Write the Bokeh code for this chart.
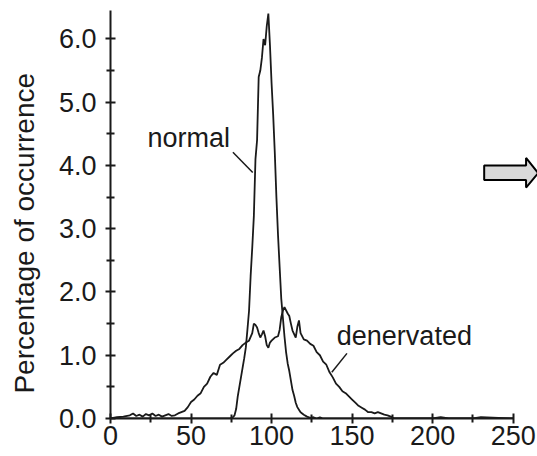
import math
from bokeh.plotting import figure
from bokeh.layouts import row
from bokeh.models import Range1d, FixedTicker
from bokeh.embed import file_html
from bokeh.resources import INLINE
from bokeh.core.properties import value

# --- data ---
normal_x = [0, 10, 20, 30, 40, 50, 60, 70, 74, 76, 77, 78, 79, 80, 81, 82, 83, 84, 85, 86, 87, 88, 89,
            90, 91, 92, 93, 94, 95, 96, 97, 98, 99, 100, 101, 102, 103, 104, 105, 106, 107, 108,
            109, 110, 111, 112, 113, 114, 115, 116, 117, 118, 120, 122, 124, 126, 128, 130, 132,
            140, 160, 180, 200, 220, 240, 250]
normal_y = [0.0, 0.0, 0.0, 0.0, 0.0, 0.0, 0.0, 0.0, 0.0, 0.02, 0.05, 0.15, 0.35, 0.5, 0.65, 0.8, 0.95,
            1.12, 1.4, 1.7, 2.25, 2.7, 3.2, 4.1, 4.4, 5.4, 5.5, 5.7, 6.0, 5.9, 6.2, 6.4, 5.9, 5.3,
            4.8, 4.2, 3.5, 2.9, 2.4, 1.9, 1.6, 1.3, 1.05, 0.87, 0.75, 0.6, 0.45, 0.36, 0.25, 0.18,
            0.14, 0.1, 0.06, 0.03, 0.01, 0.02, 0.0, 0.02, 0.0, 0.0, 0.0, 0.0, 0.0, 0.0, 0.0, 0.0]

den_x = [0, 4, 8, 12, 14, 16, 18, 20, 22, 24, 26, 28, 30, 32, 34, 36, 38, 40, 42, 44, 46, 48, 50,
         52, 54, 56, 58, 60, 62, 64, 66, 68, 70, 72, 74, 76, 78, 80, 82, 84, 86, 88, 89, 90, 91,
         92, 93, 94, 95, 96, 97, 98, 99, 100, 102, 104, 105, 106, 107, 108, 110, 111, 112, 113,
         115, 116, 117, 118, 120, 122, 124, 126, 128, 130, 132, 134, 136, 138, 140, 142, 144,
         146, 148, 150, 152, 154, 156, 158, 160, 162, 164, 166, 168, 170, 172, 174, 176, 180,
         200, 205, 210, 225, 230, 250]
den_y = [0.0, 0.02, 0.03, 0.05, 0.08, 0.04, 0.06, 0.03, 0.07, 0.05, 0.08, 0.04, 0.06, 0.03, 0.05,
         0.07, 0.04, 0.05, 0.08, 0.1, 0.12, 0.18, 0.26, 0.3, 0.36, 0.4, 0.5, 0.55, 0.66, 0.72,
         0.69, 0.85, 0.88, 0.93, 0.98, 1.03, 1.07, 1.1, 1.16, 1.2, 1.23, 1.35, 1.5, 1.48, 1.44,
         1.35, 1.28, 1.33, 1.39, 1.3, 1.16, 1.12, 1.2, 1.23, 1.28, 1.3, 1.4, 1.6, 1.7, 1.76, 1.66,
         1.62, 1.5, 1.39, 1.28, 1.45, 1.55, 1.35, 1.25, 1.23, 1.18, 1.15, 1.05, 1.0, 0.9, 0.85,
         0.73, 0.65, 0.55, 0.5, 0.43, 0.4, 0.35, 0.3, 0.25, 0.2, 0.17, 0.14, 0.1, 0.1, 0.08, 0.1,
         0.08, 0.06, 0.05, 0.03, 0.0, 0.0, 0.0, 0.02, 0.0, 0.0, 0.02, 0.0]

x_ticks = [0, 50, 100, 150, 200, 250]
x_minor = [25, 75, 125, 175, 225]
y_ticks = [0.0, 1.0, 2.0, 3.0, 4.0, 5.0, 6.0]
y_minor = [0.5, 1.5, 2.5, 3.5, 4.5, 5.5]

y_title = ["Percentage of occurrence"]

label_text = ["normal", "denervated"]
label_x = [23, 140.5]
label_y = [4.43, 1.31]
leader_x0 = [76, 146.8]
leader_y0 = [4.21, 1.03]
leader_x1 = [88.3, 137.4]
leader_y1 = [3.89, 0.73]

arrow_x = [232, 258, 258, 265.5, 258, 258, 232]
arrow_y = [4.0, 4.0, 4.12, 3.88, 3.65, 3.77, 3.77]

FONT = "Liberation Sans"
INK = "#1a1a1a"
W, H = 537, 456
W_LBL = 46

# narrow strip holding the rotated y-axis title
lbl = figure(width=W_LBL, height=H, output_backend="svg", toolbar_location=None,
             x_range=Range1d(0, W_LBL), y_range=Range1d(0, H),
             x_axis_location=None, y_axis_location=None, min_border=0)
lbl.outline_line_color = None
lbl.xgrid.visible = False
lbl.ygrid.visible = False
lbl.text(x=[24], y=[H - 249], text=y_title, angle=math.pi / 2, text_font=value(FONT),
         text_font_size="28px", text_color=INK, text_align="center", text_baseline="middle")

p = figure(width=W - W_LBL, height=H, output_backend="svg", toolbar_location=None,
           x_range=Range1d(0, 265.1), y_range=Range1d(0, 6.45),
           min_border_left=110 - W_LBL, min_border_right=0, min_border_top=10, min_border_bottom=38)
p.outline_line_color = None
p.xgrid.visible = False
p.ygrid.visible = False
p.background_fill_color = "white"

for ax in (p.xaxis[0], p.yaxis[0]):
    ax.axis_line_color = INK
    ax.axis_line_width = 2
    ax.major_tick_line_color = INK
    ax.minor_tick_line_color = INK
    ax.major_tick_line_width = 2
    ax.minor_tick_line_width = 2
    ax.major_tick_in = 5
    ax.major_tick_out = 5
    ax.minor_tick_in = 4
    ax.minor_tick_out = 4
    ax.major_label_text_font = FONT
    ax.major_label_text_font_size = "27px"
    ax.major_label_text_color = INK

p.xaxis.ticker = FixedTicker(ticks=x_ticks, minor_ticks=x_minor)
p.yaxis.ticker = FixedTicker(ticks=y_ticks, minor_ticks=y_minor)
p.xaxis.bounds = (0, 250)
p.yaxis.bounds = (0, 6.45)
p.xaxis.major_label_standoff = 2
p.yaxis.major_label_standoff = 9
p.yaxis.major_label_overrides = {t: f"{t:.1f}" for t in y_ticks}

p.line(den_x, den_y, line_color=INK, line_width=1.8)
p.line(normal_x, normal_y, line_color=INK, line_width=1.8)

p.segment(x0=leader_x0, y0=leader_y0, x1=leader_x1, y1=leader_y1, line_color=INK, line_width=1.5)
p.text(x=label_x, y=label_y, text=label_text, text_font=value(FONT), text_font_size="27px",
       text_color=INK, text_baseline="alphabetic", text_align="left")

p.patch(arrow_x, arrow_y, fill_color="#d9d9d9", line_color="black", line_width=2)

layout = row(lbl, p, spacing=0)
open("out.html", "w").write(file_html(layout, INLINE))
